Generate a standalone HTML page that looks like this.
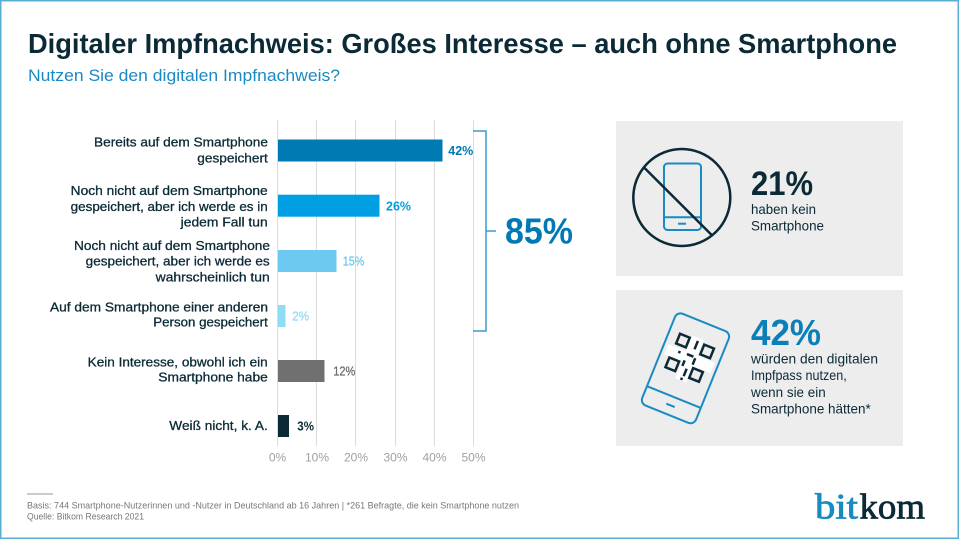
<!DOCTYPE html>
<html>
<head>
<meta charset="utf-8">
<style>
  html,body{margin:0;padding:0;background:#fff;}
  svg{display:block;}
  text{font-family:"Liberation Sans", sans-serif;}
</style>
</head>
<body>
<svg width="960" height="540" viewBox="0 0 960 540" xmlns="http://www.w3.org/2000/svg">
  <rect x="0" y="0" width="960" height="540" fill="#fff"/>
  <rect x="0.75" y="0.75" width="957.5" height="537.5" fill="none" stroke="#5aaed3" stroke-width="1.5"/>

  <!-- Title -->
  <text x="28" y="53" font-size="28" font-weight="bold" fill="#0b2a36" textLength="869" lengthAdjust="spacingAndGlyphs">Digitaler Impfnachweis: Großes Interesse – auch ohne Smartphone</text>
  <text x="28" y="81" font-size="17" fill="#1a8ac3" textLength="312" lengthAdjust="spacingAndGlyphs">Nutzen Sie den digitalen Impfnachweis?</text>

  <!-- Gridlines -->
  <g stroke="#dcdcdc" stroke-width="1">
    <line x1="277.5" y1="120" x2="277.5" y2="446"/>
    <line x1="316.5" y1="120" x2="316.5" y2="446"/>
    <line x1="355.5" y1="120" x2="355.5" y2="446"/>
    <line x1="395.5" y1="120" x2="395.5" y2="446"/>
    <line x1="434.5" y1="120" x2="434.5" y2="446"/>
    <line x1="473.5" y1="120" x2="473.5" y2="446"/>
  </g>

  <!-- Bars -->
  <rect x="278" y="139.5" width="164.5" height="22" fill="#007ab3"/>
  <rect x="278" y="194.7" width="101.5" height="22" fill="#009fe3"/>
  <rect x="278" y="250" width="58.5" height="22" fill="#6dc9ef"/>
  <rect x="278" y="305" width="7.5" height="22" fill="#8fdcf6"/>
  <rect x="278" y="360" width="46.5" height="22" fill="#707070"/>
  <rect x="278" y="415" width="11" height="22" fill="#0b2a36"/>

  <!-- Value labels -->
  <text x="448.3" y="155.2" font-size="13" font-weight="bold" fill="#0079b4" textLength="25" lengthAdjust="spacingAndGlyphs">42%</text>
  <text x="386" y="210.5" font-size="13" font-weight="bold" fill="#009fe3" textLength="25" lengthAdjust="spacingAndGlyphs">26%</text>
  <text x="342.7" y="265.7" font-size="13" fill="#6dc9ef" stroke="#6dc9ef" stroke-width="0.3" textLength="21.6" lengthAdjust="spacingAndGlyphs">15%</text>
  <text x="292.3" y="320.7" font-size="13" fill="#8fdcf6" stroke="#8fdcf6" stroke-width="0.3" textLength="16.7" lengthAdjust="spacingAndGlyphs">2%</text>
  <text x="333.3" y="375.7" font-size="13" fill="#707070" stroke="#707070" stroke-width="0.3" textLength="22" lengthAdjust="spacingAndGlyphs">12%</text>
  <text x="297.3" y="430.7" font-size="13" font-weight="bold" fill="#0b2a36" textLength="16.7" lengthAdjust="spacingAndGlyphs">3%</text>

  <!-- Category labels -->
  <g font-size="13" fill="#0b2a36" stroke="#0b2a36" stroke-width="0.3">
    <text x="94" y="146.7" textLength="174" lengthAdjust="spacingAndGlyphs">Bereits auf dem Smartphone</text>
    <text x="197.3" y="162.3" textLength="70.5" lengthAdjust="spacingAndGlyphs">gespeichert</text>
    <text x="70.7" y="195" textLength="197" lengthAdjust="spacingAndGlyphs">Noch nicht auf dem Smartphone</text>
    <text x="70.7" y="211" textLength="197" lengthAdjust="spacingAndGlyphs">gespeichert, aber ich werde es in</text>
    <text x="180.7" y="226.7" textLength="87" lengthAdjust="spacingAndGlyphs">jedem Fall tun</text>
    <text x="74" y="250" textLength="196" lengthAdjust="spacingAndGlyphs">Noch nicht auf dem Smartphone</text>
    <text x="85.7" y="265.7" textLength="184" lengthAdjust="spacingAndGlyphs">gespeichert, aber ich werde es</text>
    <text x="155.7" y="281.3" textLength="114" lengthAdjust="spacingAndGlyphs">wahrscheinlich tun</text>
    <text x="50" y="311.7" textLength="218" lengthAdjust="spacingAndGlyphs">Auf dem Smartphone einer anderen</text>
    <text x="153.3" y="326.7" textLength="114.5" lengthAdjust="spacingAndGlyphs">Person gespeichert</text>
    <text x="87.7" y="366.7" textLength="180" lengthAdjust="spacingAndGlyphs">Kein Interesse, obwohl ich ein</text>
    <text x="158.3" y="381.7" textLength="109.5" lengthAdjust="spacingAndGlyphs">Smartphone habe</text>
    <text x="169.3" y="430" textLength="98.5" lengthAdjust="spacingAndGlyphs">Weiß nicht, k. A.</text>
  </g>

  <!-- Axis labels -->
  <g font-size="12" fill="#a0a0a0" text-anchor="middle">
    <text x="277.5" y="461.7">0%</text>
    <text x="317" y="461.7">10%</text>
    <text x="356" y="461.7">20%</text>
    <text x="395.5" y="461.7">30%</text>
    <text x="434.5" y="461.7">40%</text>
    <text x="473.5" y="461.7">50%</text>
  </g>

  <!-- Bracket + 85% -->
  <path d="M473,131 H486 V331 H473" fill="none" stroke="#3a9bcc" stroke-width="1.5"/>
  <line x1="486" y1="231" x2="496" y2="231" stroke="#3a9bcc" stroke-width="1.5"/>
  <text x="505" y="243.3" font-size="36" font-weight="bold" fill="#0079b4" textLength="68" lengthAdjust="spacingAndGlyphs">85%</text>

  <!-- Panel 1 -->
  <rect x="616" y="121" width="287" height="155" fill="#ededed"/>
  <rect x="664" y="163.5" width="37" height="66.5" rx="3.5" fill="none" stroke="#1a8ac3" stroke-width="2"/>
  <line x1="664" y1="217.3" x2="701" y2="217.3" stroke="#1a8ac3" stroke-width="2"/>
  <line x1="678" y1="223.7" x2="686" y2="223.7" stroke="#1a8ac3" stroke-width="2"/>
  <circle cx="681.8" cy="197.5" r="48.5" fill="none" stroke="#0b2a36" stroke-width="2.5"/>
  <line x1="643.3" y1="166.7" x2="711.7" y2="235" stroke="#0b2a36" stroke-width="2.5"/>
  <text x="751" y="195" font-size="34" font-weight="bold" fill="#0b2a36" textLength="62" lengthAdjust="spacingAndGlyphs">21%</text>
  <text x="751" y="214" font-size="14" fill="#0b2a36" textLength="65" lengthAdjust="spacingAndGlyphs">haben kein</text>
  <text x="751" y="230.7" font-size="14" fill="#0b2a36" textLength="73" lengthAdjust="spacingAndGlyphs">Smartphone</text>

  <!-- Panel 2 -->
  <rect x="616" y="290" width="287" height="156" fill="#ededed"/>
  <g transform="translate(685.5,368.3) rotate(22)">
    <rect x="-29" y="-49.5" width="58" height="99" rx="6" fill="none" stroke="#1a8ac3" stroke-width="2"/>
    <line x1="-29" y1="31" x2="29" y2="31" stroke="#1a8ac3" stroke-width="2"/>
    <line x1="-4.5" y1="40" x2="4.5" y2="40" stroke="#1a8ac3" stroke-width="2"/>
    <!-- QR -->
    <rect x="-6" y="-33" width="12" height="46" fill="#fff"/>
    <rect x="-25" y="-16" width="50" height="11" fill="#fff"/>
    <g fill="none" stroke="#0b2a36" stroke-width="2.5">
      <rect x="-18" y="-30" width="10.5" height="10.5"/>
      <rect x="8.5" y="-29" width="10.5" height="10.5"/>
      <rect x="-19" y="-4" width="10.5" height="10.5"/>
      <rect x="7" y="-3" width="10.5" height="10.5"/>
    </g>
    <g fill="#0b2a36">
      <rect x="0" y="-30" width="2.5" height="9"/>
      <rect x="-4" y="-15" width="7" height="2.5"/>
      <rect x="4" y="-13" width="2.5" height="7"/>
      <rect x="-5" y="-7" width="2.5" height="6"/>
      <rect x="0" y="0" width="2.5" height="8"/>
      <rect x="-1" y="10" width="2.5" height="2.5"/>
      <rect x="-13" y="-14" width="2.5" height="2.5"/>
    </g>
  </g>
  <text x="751" y="345" font-size="36" font-weight="bold" fill="#0a7fb8" textLength="70" lengthAdjust="spacingAndGlyphs">42%</text>
  <g font-size="14" fill="#0b2a36">
    <text x="751" y="363.3" textLength="127" lengthAdjust="spacingAndGlyphs">würden den digitalen</text>
    <text x="751" y="380" textLength="95.7" lengthAdjust="spacingAndGlyphs">Impfpass nutzen,</text>
    <text x="751" y="396.8" textLength="74.7" lengthAdjust="spacingAndGlyphs">wenn sie ein</text>
    <text x="751" y="413.5" textLength="119.7" lengthAdjust="spacingAndGlyphs">Smartphone hätten*</text>
  </g>

  <!-- Footer -->
  <line x1="27" y1="494" x2="53" y2="494" stroke="#999" stroke-width="1"/>
  <text x="27" y="508.5" font-size="9.5" fill="#777" textLength="492" lengthAdjust="spacingAndGlyphs">Basis: 744  Smartphone-Nutzerinnen und -Nutzer in Deutschland ab 16 Jahren | *261 Befragte, die kein Smartphone nutzen</text>
  <text x="27" y="519.5" font-size="9.5" fill="#777" textLength="117" lengthAdjust="spacingAndGlyphs">Quelle: Bitkom Research 2021</text>

  <!-- Logo -->
  <text x="815" y="518.3" font-size="36" fill="#1a8ac3" stroke="#1a8ac3" stroke-width="0.8" textLength="43" lengthAdjust="spacingAndGlyphs" style="font-family:'Liberation Serif',serif">bit</text>
  <text x="859.5" y="518.3" font-size="36" fill="#0b2a36" stroke="#0b2a36" stroke-width="0.8" textLength="65.5" lengthAdjust="spacingAndGlyphs" style="font-family:'Liberation Serif',serif">kom</text>
</svg>
</body>
</html>
